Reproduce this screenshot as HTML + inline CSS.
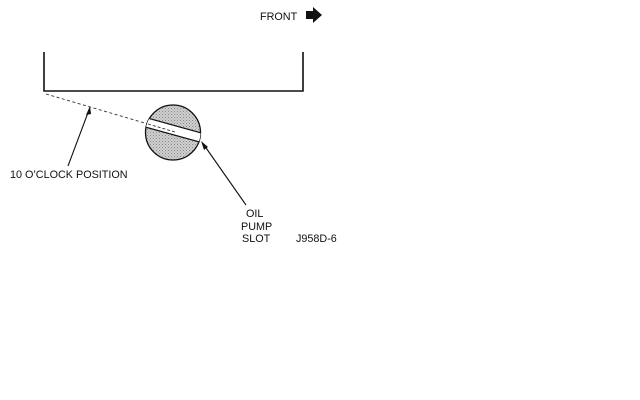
<!DOCTYPE html>
<html><head><style>
html,body{margin:0;padding:0;background:#fff;}
svg{display:block;}
text{font-family:"Liberation Sans",sans-serif;font-size:10.8px;fill:#111;}
</style></head><body>
<svg width="640" height="400" viewBox="0 0 640 400" xmlns="http://www.w3.org/2000/svg">
<defs>
<pattern id="dots" width="3" height="3" patternUnits="userSpaceOnUse">
<rect width="3" height="3" fill="#d0d0d0"/>
<rect x="0" y="0" width="1" height="1" fill="#888"/>
<rect x="1.5" y="1.5" width="1" height="1" fill="#999"/>
</pattern>
<clipPath id="cc"><circle cx="173" cy="132.5" r="27.5"/></clipPath>
</defs>
<text x="260" y="20">FRONT</text>
<polygon points="306,11 313,11 313,7 322,15 313,23 313,19 306,19" fill="#111"/>
<polyline points="44,52 44,91 303,91 303,52" fill="none" stroke="#111" stroke-width="1.6"/>
<line x1="46" y1="94" x2="148" y2="124" stroke="#333" stroke-width="0.9" stroke-dasharray="3,2.5"/>
<circle cx="173" cy="132.5" r="27.5" fill="url(#dots)" stroke="#111" stroke-width="1.3"/>
<g clip-path="url(#cc)">
<polygon points="140,116 205,134 203,143 138,125" fill="#fff" stroke="#111" stroke-width="1.2"/>
</g>
<line x1="148" y1="124" x2="175" y2="132" stroke="#333" stroke-width="0.9" stroke-dasharray="3,2"/>
<line x1="68" y1="166" x2="89" y2="110" stroke="#111" stroke-width="1.1"/>
<polygon points="90,106 86,115 91,114" fill="#111"/>
<line x1="246" y1="205" x2="204" y2="145" stroke="#111" stroke-width="1.1"/>
<polygon points="201,141 204,150 208,147" fill="#111"/>
<text x="10" y="178">10 O’CLOCK POSITION</text>
<text x="246" y="217">OIL</text>
<text x="241" y="230">PUMP</text>
<text x="242" y="242">SLOT</text>
<text x="296" y="242">J958D-6</text>
</svg>
</body></html>
